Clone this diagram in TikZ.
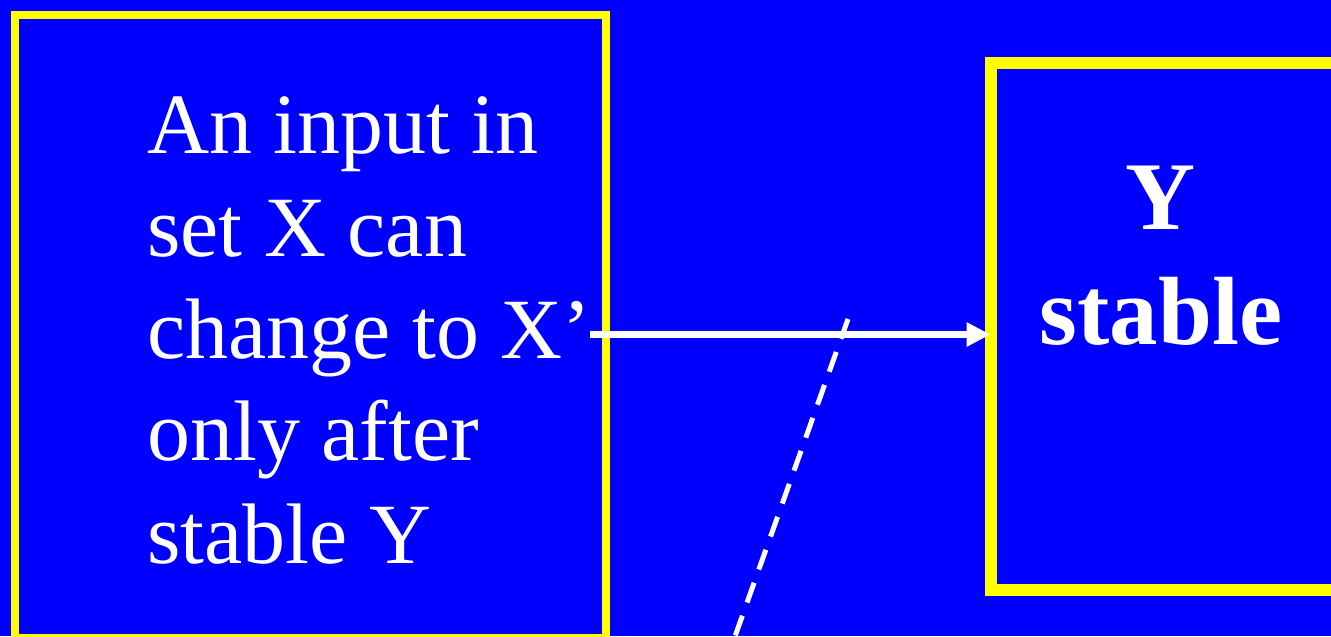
\documentclass[tikz,border=0pt]{standalone}
\usepackage{fontspec}
\setmainfont{Liberation Serif}
\usetikzlibrary{arrows.meta}
\definecolor{slide}{HTML}{0000FF}
\definecolor{rim}{HTML}{FFFF00}

\begin{document}
\begin{tikzpicture}[
  x=0.02cm,y=-0.02cm,
  frame/.style={draw=rim,inner sep=0pt,outer sep=0pt},
  says/.style={text=white,align=left,inner sep=0pt,
    font=\fontsize{48.9}{58.2}\selectfont},
  verdict/.style={text=white,align=center,inner sep=0pt,
    font=\fontsize{55.2}{65.4}\selectfont\bfseries},
  flow/.style={-{Triangle[length=0.48cm,width=0.46cm]},draw=white,line width=0.14cm},
  hint/.style={draw=white,line width=0.1cm,dash pattern=on 0.42cm off 0.28cm}
]
  \fill[slide] (0,0) rectangle (1331,636);
  \useasboundingbox (0,0) rectangle (1331,636);

  \node[frame,line width=0.16cm,minimum width=11.83cm,minimum height=12.46cm]
    (xbox) at (310.75,326.5) {};
  \node[frame,line width=0.24cm,minimum width=8.2cm,minimum height=10.56cm,
    anchor=north west] (ybox) at (990.5,62.5) {};

  \node[says,anchor=base west] (rule) at (147,563)
    {An input in\\set X can\\change to X’\\only after\\stable Y};
  \node[verdict,anchor=base] (ystable) at (1161,344) {Y\\stable};

  \coordinate (from) at (590,334.5);
  \draw[flow] (from) -- (from -| ybox.west);

  \coordinate (dtop) at (848,319);
  \coordinate (dbot) at (733,642);
  \draw[hint] (dtop) -- (dbot);
\end{tikzpicture}
\end{document}
